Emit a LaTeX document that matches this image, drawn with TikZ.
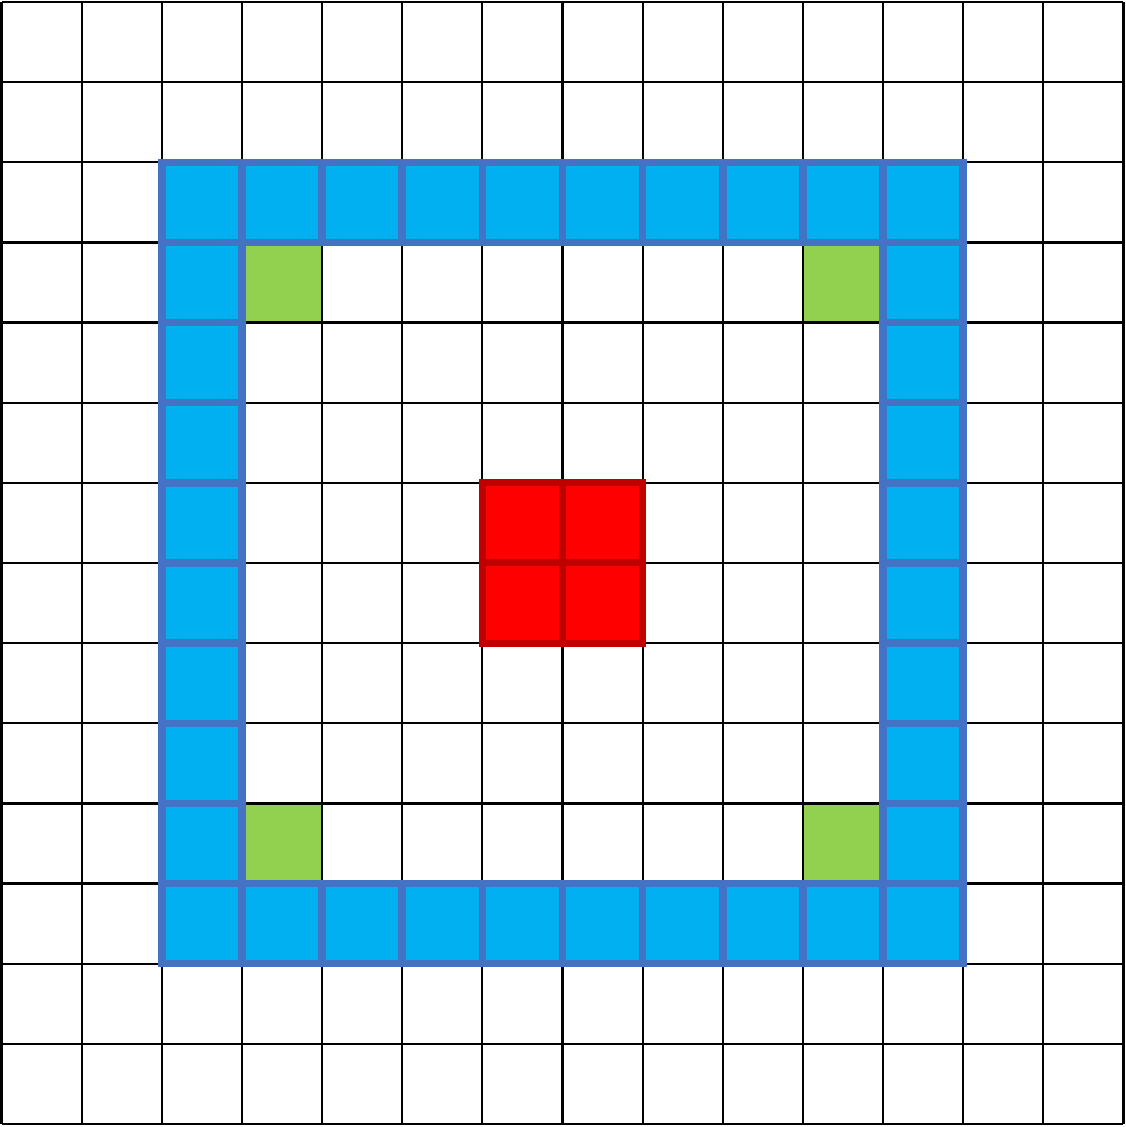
\documentclass[tikz,border=0pt]{standalone}
\definecolor{cellblue}{HTML}{00B0F0}
\definecolor{ringedge}{HTML}{4472C4}
\definecolor{cellgreen}{HTML}{92D050}
\definecolor{cellred}{HTML}{FF0000}
\definecolor{rededge}{HTML}{C00000}
\tikzset{
  gridline/.style={black, line width=2.2pt},
  bluecell/.style={fill=cellblue, draw=ringedge, line width=7.5pt},
  redcell/.style={fill=cellred, draw=rededge, line width=7pt},
  greencell/.style={fill=cellgreen},
}
\begin{document}
\begin{tikzpicture}[x=1pt,y=-1pt]
\useasboundingbox (0,0) rectangle (1126,1127);
\fill[white] (0,0) rectangle (1126,1127);
\def\ox{1.5}\def\oy{2}\def\cs{80.14}
% green cells
\foreach \c/\r in {3/3,10/3,3/10,10/10}
  \fill[greencell] ({\ox+\c*\cs},{\oy+\r*\cs}) rectangle ++(\cs,\cs);
% grid
\foreach \i in {0,...,14}{
  \draw[gridline] ({\ox+\i*\cs},\oy) -- ({\ox+\i*\cs},{\oy+14*\cs});
  \draw[gridline] (\ox,{\oy+\i*\cs}) -- ({\ox+14*\cs},{\oy+\i*\cs});
}
% blue ring
\foreach \c in {2,...,11}{
  \draw[bluecell] ({\ox+\c*\cs},{\oy+2*\cs}) rectangle ++(\cs,\cs);
  \draw[bluecell] ({\ox+\c*\cs},{\oy+11*\cs}) rectangle ++(\cs,\cs);
}
\foreach \r in {3,...,10}{
  \draw[bluecell] ({\ox+2*\cs},{\oy+\r*\cs}) rectangle ++(\cs,\cs);
  \draw[bluecell] ({\ox+11*\cs},{\oy+\r*\cs}) rectangle ++(\cs,\cs);
}
% red block
\foreach \c/\r in {6/6,7/6,6/7,7/7}
  \draw[redcell] ({\ox+\c*\cs},{\oy+\r*\cs}) rectangle ++(\cs,\cs);
\end{tikzpicture}
\end{document}
